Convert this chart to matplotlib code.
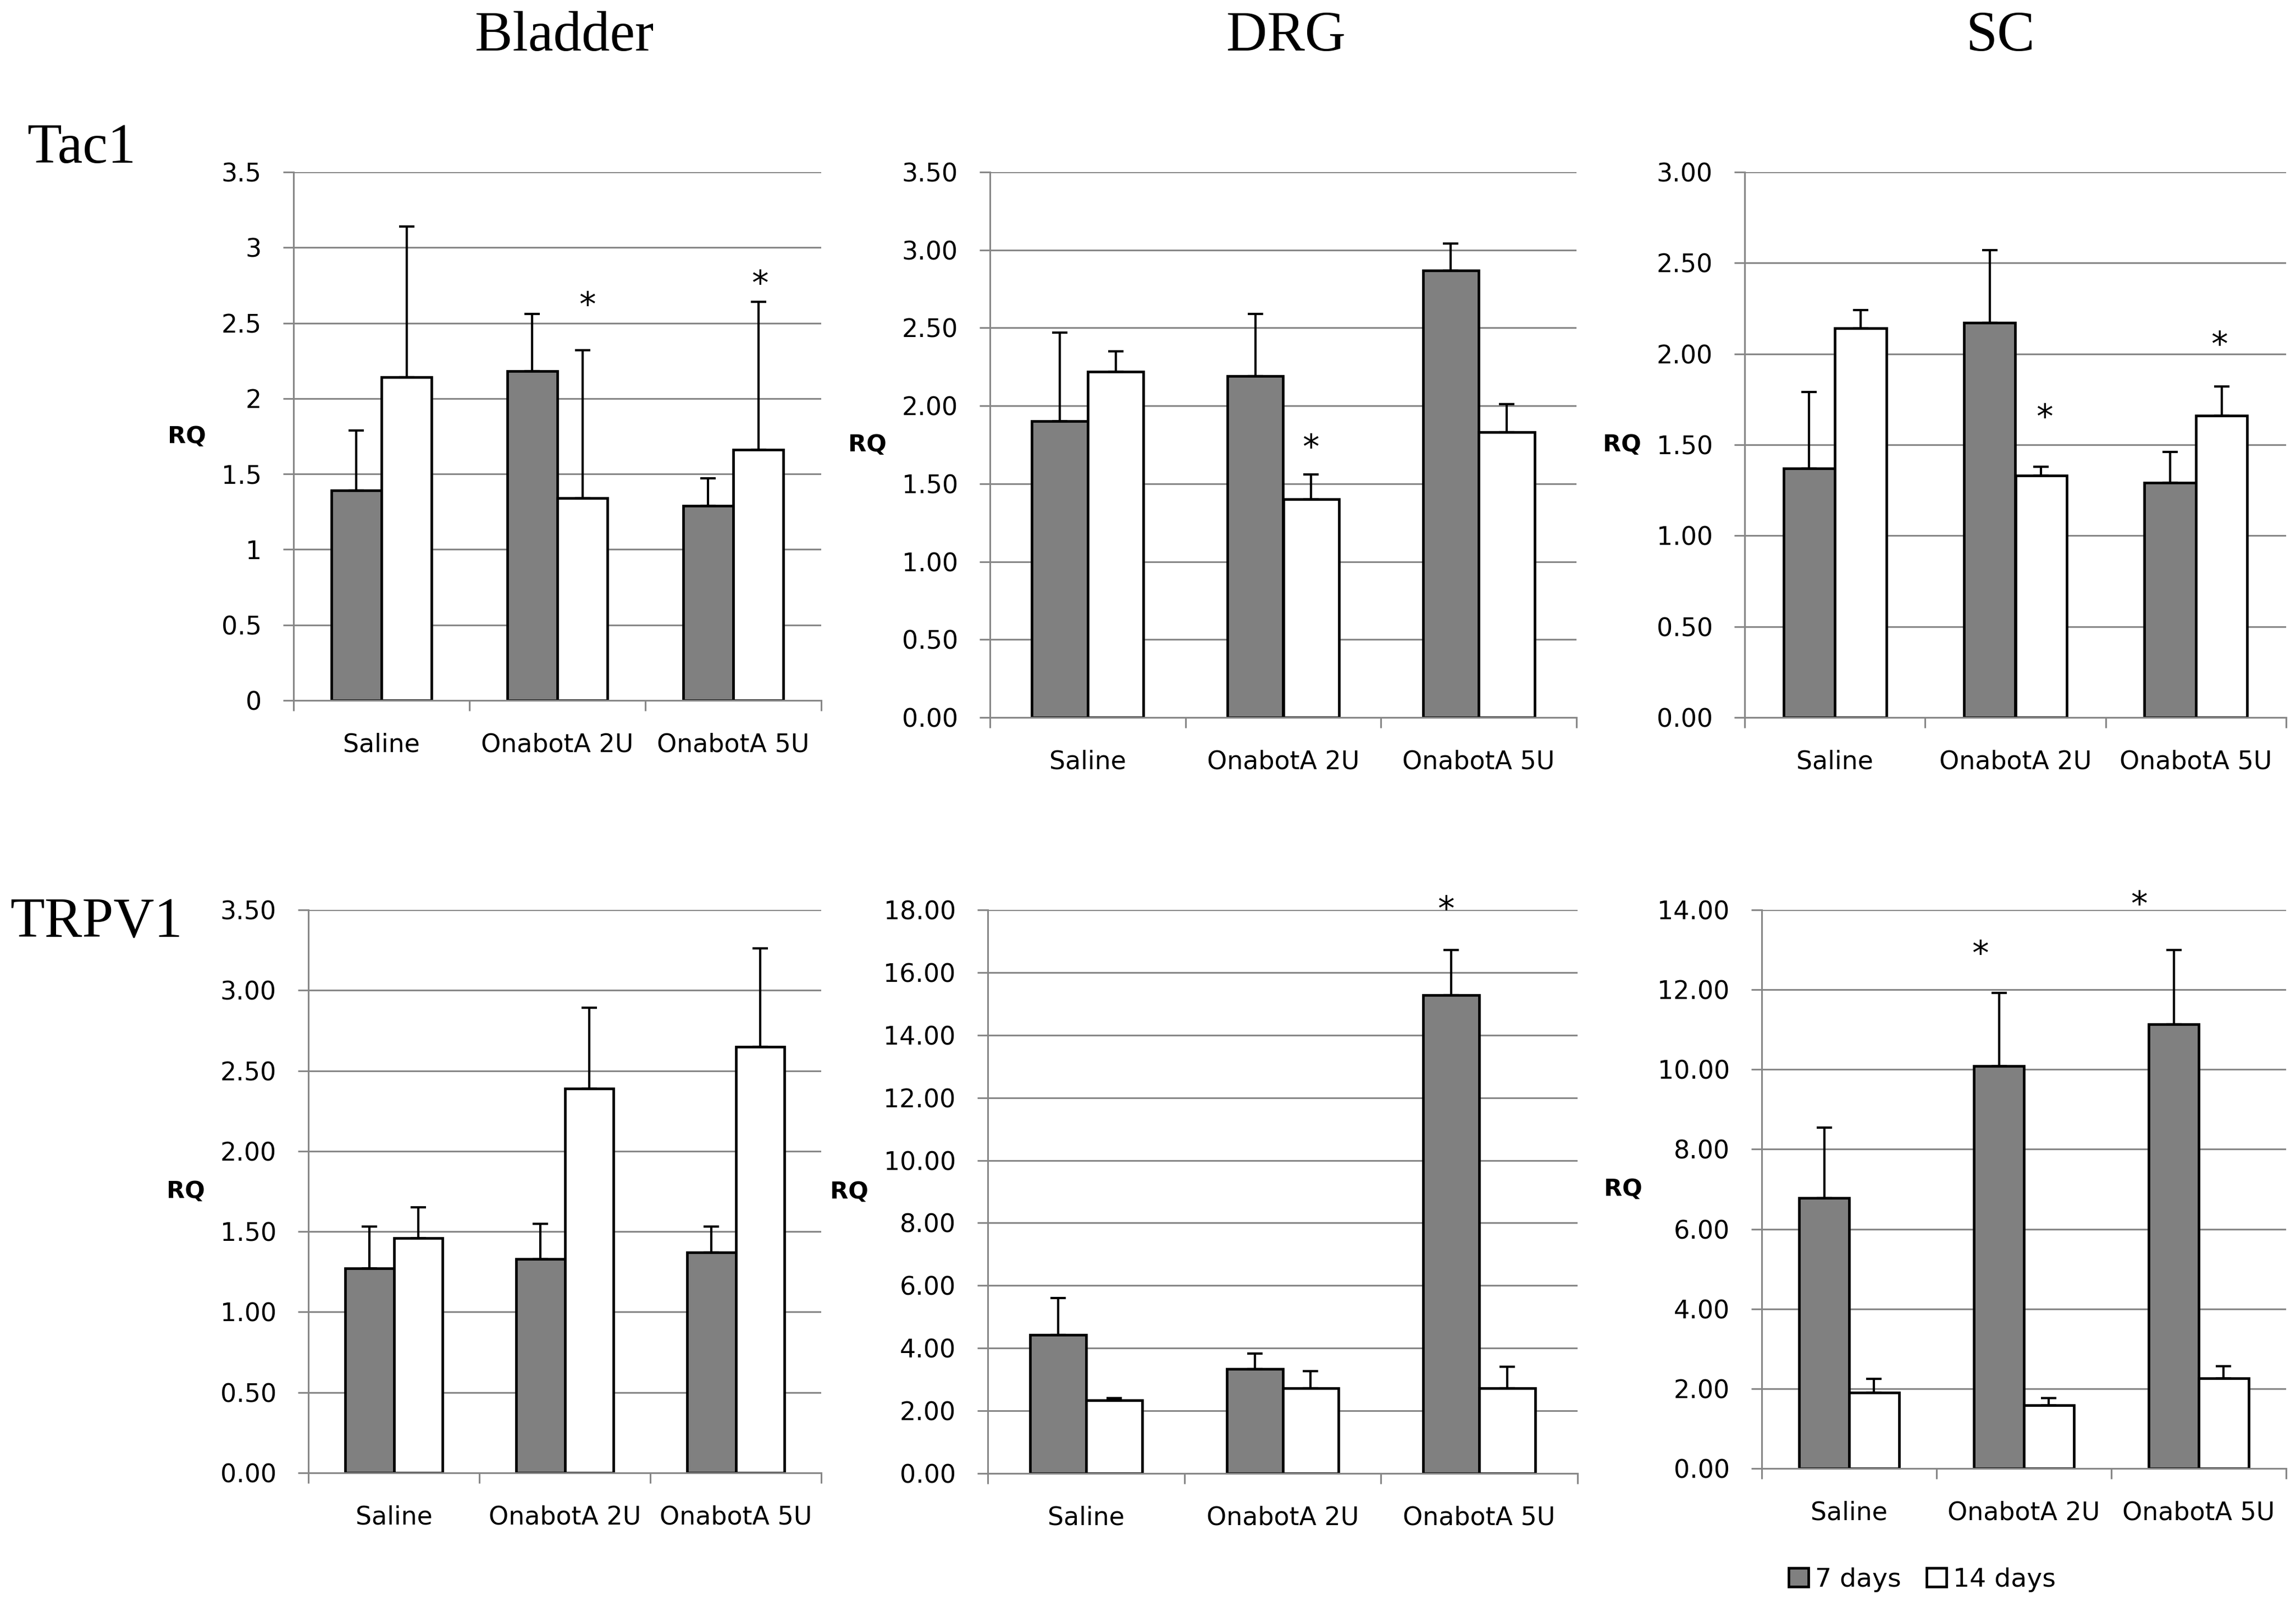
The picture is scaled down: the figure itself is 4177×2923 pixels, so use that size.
import matplotlib
matplotlib.use('Agg')
import matplotlib.pyplot as plt
from matplotlib.patches import Patch
from matplotlib.ticker import MultipleLocator, FormatStrFormatter, FixedLocator
import numpy as np

categories = ['Saline', 'OnabotA 2U', 'OnabotA 5U']
series_names = ['7 days', '14 days']
tissues = ['Bladder', 'DRG', 'SC']
genes = ['Tac1', 'TRPV1']

# Tac1 row: mean RQ and upper error (7 days, 14 days)
tac1_bladder_7 = [1.39, 2.18, 1.29]
tac1_bladder_14 = [2.14, 1.34, 1.66]
tac1_bladder_7_err = [0.40, 0.38, 0.18]
tac1_bladder_14_err = [1.00, 0.98, 0.98]

tac1_drg_7 = [1.90, 2.19, 2.87]
tac1_drg_14 = [2.22, 1.40, 1.83]
tac1_drg_7_err = [0.57, 0.40, 0.17]
tac1_drg_14_err = [0.13, 0.16, 0.18]

tac1_sc_7 = [1.37, 2.17, 1.29]
tac1_sc_14 = [2.14, 1.33, 1.66]
tac1_sc_7_err = [0.42, 0.40, 0.17]
tac1_sc_14_err = [0.10, 0.05, 0.16]

# TRPV1 row
trpv1_bladder_7 = [1.27, 1.33, 1.37]
trpv1_bladder_14 = [1.46, 2.39, 2.65]
trpv1_bladder_7_err = [0.26, 0.22, 0.16]
trpv1_bladder_14_err = [0.19, 0.50, 0.61]

trpv1_drg_7 = [4.43, 3.34, 15.27]
trpv1_drg_14 = [2.33, 2.72, 2.72]
trpv1_drg_7_err = [1.17, 0.48, 1.45]
trpv1_drg_14_err = [0.07, 0.55, 0.68]

trpv1_sc_7 = [6.78, 10.09, 11.13]
trpv1_sc_14 = [1.90, 1.59, 2.26]
trpv1_sc_7_err = [1.76, 1.83, 1.87]
trpv1_sc_14_err = [0.35, 0.18, 0.30]

# significance stars: (category index, x offset, y)
stars_tac1_bladder = [(1, 0.17, 2.68), (2, 0.15, 2.82)]
stars_tac1_drg = [(1, 0.14, 1.79)]
stars_tac1_sc = [(1, 0.16, 1.70), (2, 0.13, 2.10)]
stars_trpv1_bladder = []
stars_trpv1_drg = [(2, -0.17, 18.3)]
stars_trpv1_sc = [(1, -0.25, 13.13), (2, -0.34, 14.36)]

panels = [
    (tac1_bladder_7, tac1_bladder_14, tac1_bladder_7_err, tac1_bladder_14_err, 3.5, 0.5, '%g', stars_tac1_bladder),
    (tac1_drg_7, tac1_drg_14, tac1_drg_7_err, tac1_drg_14_err, 3.5, 0.5, '%.2f', stars_tac1_drg),
    (tac1_sc_7, tac1_sc_14, tac1_sc_7_err, tac1_sc_14_err, 3.0, 0.5, '%.2f', stars_tac1_sc),
    (trpv1_bladder_7, trpv1_bladder_14, trpv1_bladder_7_err, trpv1_bladder_14_err, 3.5, 0.5, '%.2f', stars_trpv1_bladder),
    (trpv1_drg_7, trpv1_drg_14, trpv1_drg_7_err, trpv1_drg_14_err, 18, 2, '%.2f', stars_trpv1_drg),
    (trpv1_sc_7, trpv1_sc_14, trpv1_sc_7_err, trpv1_sc_14_err, 14, 2, '%.2f', stars_trpv1_sc),
]

W, H = 4177, 2923
# axes boxes in pixels: left, top, right, bottom
boxes = [
    (534, 313, 1494, 1274),
    (1801, 313, 2868, 1305),
    (3174, 313, 4159, 1305),
    (561, 1655, 1494, 2679),
    (1797, 1655, 2870, 2680),
    (3205, 1655, 4159, 2671),
]

dark = '#808080'
grid_c = '#878787'
bw = 0.285
lw = 1.7

plt.rcParams['font.family'] = 'DejaVu Sans'
fig = plt.figure(figsize=(W / 200, H / 200), dpi=200)

x = np.arange(len(categories))
for (v7, v14, e7, e14, ymax, step, fmt, stars), (l, t, r, b) in zip(panels, boxes):
    ax = fig.add_axes([l / W, 1 - b / H, (r - l) / W, (b - t) / H])
    ax.set_axisbelow(True)
    ax.bar(x - bw / 2, v7, bw, color=dark, edgecolor='black', linewidth=lw, zorder=2)
    ax.bar(x + bw / 2, v14, bw, color='white', edgecolor='black', linewidth=lw, zorder=2)
    ax.errorbar(x - bw / 2, v7, yerr=[np.zeros(3), e7], fmt='none', ecolor='black',
                elinewidth=1.5, capsize=5, capthick=1.5, zorder=3)
    ax.errorbar(x + bw / 2, v14, yerr=[np.zeros(3), e14], fmt='none', ecolor='black',
                elinewidth=1.5, capsize=5, capthick=1.5, zorder=3)
    for ci, dx, sy in stars:
        ax.annotate('*', xy=(ci + dx, sy), xytext=(0, -0.58 * 22), textcoords='offset points',
                    ha='center', va='baseline', fontsize=22, annotation_clip=False)
    ax.set_xlim(-0.5, 2.5)
    ax.set_ylim(0, ymax)
    ax.yaxis.set_major_locator(MultipleLocator(step))
    ax.yaxis.set_major_formatter(FormatStrFormatter(fmt))
    ax.grid(axis='y', color=grid_c, linewidth=1.1, zorder=0)
    ax.xaxis.set_major_locator(FixedLocator([-0.5, 0.5, 1.5, 2.5]))
    ax.xaxis.set_minor_locator(FixedLocator(x))
    ax.set_xticklabels([])
    ax.set_xticklabels(categories, minor=True)
    ax.tick_params(axis='x', which='major', length=7, width=1.1, color=grid_c)
    ax.tick_params(axis='x', which='minor', length=0, pad=21, labelsize=16.5)
    ax.tick_params(axis='y', length=7, width=1.1, color=grid_c, pad=14, labelsize=16.5)
    for s in ['top', 'right']:
        ax.spines[s].set_visible(False)
    for s in ['left', 'bottom']:
        ax.spines[s].set_color(grid_c)
        ax.spines[s].set_linewidth(1.1)
    ax.set_ylabel('RQ', rotation=0, ha='right', va='center', fontsize=15.5,
                  fontweight='bold', labelpad=10)

title_x = [1027, 2339, 3639]
for name, tx in zip(tissues, title_x):
    fig.text(tx / W, 0.9685, name, ha='center', va='baseline', fontsize=37,
             family='Liberation Serif')
fig.text(49 / W, 0.8987, genes[0], ha='left', va='baseline', fontsize=37, family='Liberation Serif')
fig.text(18 / W, 0.4170, genes[1], ha='left', va='baseline', fontsize=37, family='Liberation Serif')

handles = [Patch(facecolor=dark, edgecolor='black', linewidth=lw),
           Patch(facecolor='white', edgecolor='black', linewidth=lw)]
fig.legend(handles, series_names, loc='center', bbox_to_anchor=(3497 / W, 1 - 2873 / H),
           ncol=2, frameon=False, fontsize=17, handlelength=0.75, handleheight=0.75,
           handletextpad=0.25, columnspacing=1.0)

fig.savefig('out.png', dpi=200, facecolor='white')
